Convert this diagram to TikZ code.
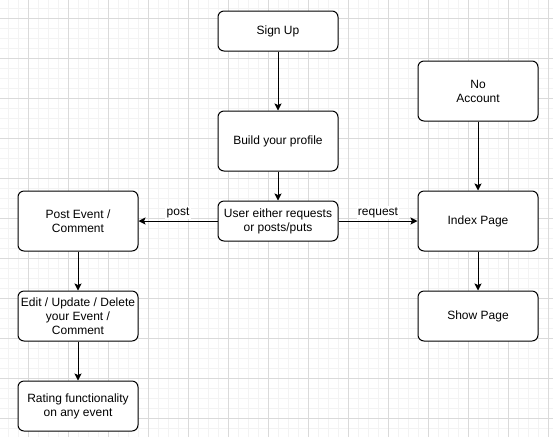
\documentclass[tikz,border=0pt]{standalone}
\usepackage{fontspec}
\setmainfont{Liberation Sans}
\usetikzlibrary{arrows.meta}
\definecolor{minorgrid}{HTML}{F3F3F3}
\definecolor{majorgrid}{HTML}{DADADA}
\tikzset{
  box/.style={draw=black, line width=0.75pt, rounded corners=4.5pt, fill=white,
    minimum width=90pt, align=center, inner sep=0pt, font=\fontsize{9pt}{10.5pt}\selectfont},
  conn/.style={draw=black, line width=0.75pt, -{Stealth[length=5.25pt,width=5.25pt,inset=1.1pt]}},
  lbl/.style={font=\fontsize{9pt}{10.5pt}\selectfont, fill=white, inner sep=1pt}
}
\begin{document}
\begin{tikzpicture}[x=0.75pt,y=-0.75pt]
\useasboundingbox (0,0) rectangle (553,437);
\fill[white] (0,0) rectangle (553,437);
% minor grid
\foreach \i in {0,...,55} { \draw[minorgrid, line width=0.6pt] ({8+10*\i},0) -- ({8+10*\i},437); }
\foreach \i in {0,...,43} { \draw[minorgrid, line width=0.6pt] (0,{8+10*\i}) -- (553,{8+10*\i}); }
% major grid
\foreach \i in {0,...,13} { \draw[majorgrid, line width=0.6pt] ({28+40*\i},0) -- ({28+40*\i},437); }
\foreach \i in {0,...,10} { \draw[majorgrid, line width=0.6pt] (0,{18+40*\i}) -- (553,{18+40*\i}); }

\node[box, minimum height=30pt] (signup) at (278,31) {Sign Up};
\node[box, minimum height=45pt] (profile) at (278,141) {Build your profile};
\node[box, minimum height=30pt] (user) at (278,221) {User either requests\\or posts/puts};
\node[box, minimum height=45pt] (post) at (78,221) {Post Event /\\Comment};
\node[box, minimum height=37.5pt] (edit) at (78,316) {Edit / Update / Delete\\your Event /\\Comment};
\node[box, minimum height=37.5pt] (rating) at (78,406) {Rating functionality\\on any event};
\node[box, minimum height=45pt] (noacc) at (478,91) {No\\Account};
\node[box, minimum height=45pt] (index) at (478,221) {Index Page};
\node[box, minimum height=37.5pt] (show) at (478,316) {Show Page};

\draw[conn] (signup) -- (profile);
\draw[conn] (profile) -- (user);
\draw[conn] (user) -- node[lbl, above=1pt] {post} (post);
\draw[conn] (user) -- node[lbl, above=1pt] {request} (index);
\draw[conn] (post) -- (edit);
\draw[conn] (edit) -- (rating);
\draw[conn] (noacc) -- (index);
\draw[conn] (index) -- (show);
\end{tikzpicture}
\end{document}
